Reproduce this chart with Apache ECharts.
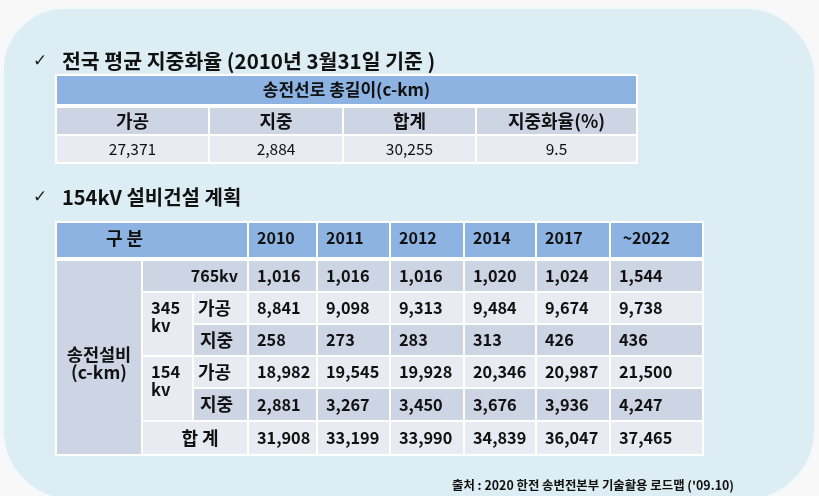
<!DOCTYPE html>
<html><head><meta charset="utf-8">
<script src="https://cdn.jsdelivr.net/npm/echarts@6/dist/echarts.min.js"></script>
<style>html,body{margin:0;padding:0;background:#f8f8f8}#c{width:819px;height:496px}</style>
</head><body><div id="c"></div>
<script>
// ---------- data ----------
const title1 = '전국 평균 지중화율 (2010년 3월31일 기준 )';
const title2 = '154kV 설비건설 계획';
const sourceText = "출처 : 2020 한전 송변전본부 기술활용 로드맵 ('09.10)";

const t1Header = '송전선로 총길이(c-km)';
const t1Labels = ['가공', '지중', '합계', '지중화율(%)'];
const t1Values = [27371, 2884, 30255, 9.5];

const years = ['2010', '2011', '2012', '2014', '2017', ' ~2022'];
const headLabel = '구 분';
const groupLabel = '송전설비\n(c-km)';
const v765Label = '765kv';
const v345Label = '345\nkv';
const v154Label = '154\nkv';
const kindLabels = ['가공', '지중'];
const totalLabel = '합 계';

const v765 = [1016, 1016, 1016, 1020, 1024, 1544];
const v345Overhead = [8841, 9098, 9313, 9484, 9674, 9738];
const v345Underground = [258, 273, 283, 313, 426, 436];
const v154Overhead = [18982, 19545, 19928, 20346, 20987, 21500];
const v154Underground = [2881, 3267, 3450, 3676, 3936, 4247];
const vTotal = [31908, 33199, 33990, 34839, 36047, 37465];

// ---------- layout / style ----------
const FONT = '"Noto Sans CJK KR", "Noto Sans", sans-serif';
const FILLS = { head: '#8DB3E2', dark: '#CDD4E4', light: '#E8EBF2', white: '#FFFFFF' };
const L1 = { cols: [0, 153, 287, 420, 581], rows: [0, 32, 60, 88] };
const L2 = { cols: [0, 86, 137, 192, 261, 334, 408, 480, 554, 647], rows: [0, 38, 70, 102, 134, 166, 199, 233] };
const fmt = v => (typeof v === 'number' && Math.abs(v) >= 1000) ? v.toLocaleString('en-US') : String(v);

function cell(c0, c1, r0, r1, fill, text, align, weight, size, extra) {
  return Object.assign({ span: [c0, c1, r0, r1], fill, text, align, weight, size }, extra || {});
}

const cells1 = [];
cells1.push(cell(0, 4, 0, 3, 'white', '', 'center', 'normal', 16, { inset: -1 }));
cells1.push(cell(0, 4, 0, 1, 'head', t1Header, 'center', 'bold', 17, { head: true }));
t1Labels.forEach((t, i) => cells1.push(cell(i, i + 1, 1, 2, 'dark', t, 'center', 'bold', 18)));
t1Values.forEach((v, i) => cells1.push(cell(i, i + 1, 2, 3, 'light', fmt(v), 'center', 'normal', 15.5)));

const cells2 = [];
cells2.push(cell(0, 9, 0, 7, 'white', '', 'center', 'normal', 16, { inset: -1 }));
cells2.push(cell(0, 3, 0, 1, 'head', headLabel, 'center', 'bold', 18, { head: true, tspan: [0, 2], dy: -2 }));
years.forEach((y, i) => cells2.push(cell(3 + i, 4 + i, 0, 1, 'head', y, 'left', 'bold', 16, { head: true, dy: -2 })));
cells2.push(cell(0, 1, 1, 7, 'dark', groupLabel, 'center', 'bold', 17.5, { dy: 6 }));
cells2.push(cell(1, 3, 1, 2, 'dark', v765Label, 'right', 'bold', 16));
cells2.push(cell(1, 2, 2, 4, 'light', v345Label, 'left', 'bold', 16.5, { firstRow: true }));
cells2.push(cell(2, 3, 2, 3, 'light', kindLabels[0], 'left', 'bold', 18, { pad: 4 }));
cells2.push(cell(2, 3, 3, 4, 'dark', kindLabels[1], 'left', 'bold', 18, { pad: 6 }));
cells2.push(cell(1, 2, 4, 6, 'light', v154Label, 'left', 'bold', 16.5, { firstRow: true }));
cells2.push(cell(2, 3, 4, 5, 'light', kindLabels[0], 'left', 'bold', 18, { pad: 4 }));
cells2.push(cell(2, 3, 5, 6, 'dark', kindLabels[1], 'left', 'bold', 18, { pad: 6 }));
cells2.push(cell(1, 3, 6, 7, 'light', totalLabel, 'center', 'bold', 18, { dx: 5 }));
const bodyRows = [v765, v345Overhead, v345Underground, v154Overhead, v154Underground, vTotal];
const bodyFills = ['dark', 'light', 'dark', 'light', 'dark', 'light'];
bodyRows.forEach((row, r) => row.forEach((v, i) =>
  cells2.push(cell(3 + i, 4 + i, 1 + r, 2 + r, bodyFills[r], fmt(v), 'left', 'bold', 16.3))));

function toData(cells, L) {
  return cells.map(c => [L.cols[c.span[0]], L.cols[c.span[1]], L.rows[c.span[2]], L.rows[c.span[3]]]);
}

function makeRender(cells, L) {
  return function (params, api) {
    const c = cells[params.dataIndex];
    const p0 = api.coord([api.value(0), api.value(2)]);
    const p1 = api.coord([api.value(1), api.value(3)]);
    const ins = c.inset != null ? c.inset : 1;
    const x = p0[0] + ins, y = p0[1] + ins;
    const w = p1[0] - p0[0] - 2 * ins;
    const h = p1[1] - p0[1] - 2 * ins - (c.head ? 2 : 0);
    const children = [{ type: 'rect', shape: { x, y, width: w, height: h }, style: { fill: FILLS[c.fill] } }];
    if (c.text) {
      let tx0 = x, tx1 = x + w;
      if (c.tspan) {
        tx0 = api.coord([L.cols[c.tspan[0]], 0])[0];
        tx1 = api.coord([L.cols[c.tspan[1]], 0])[0];
      }
      const pad = c.pad != null ? c.pad : 8;
      let tx = c.align === 'left' ? tx0 + pad : c.align === 'right' ? tx1 - 9 : (tx0 + tx1) / 2;
      tx += (c.dx || 0);
      let ty = y + h / 2 + (c.dy || 0);
      let va = 'middle';
      if (c.firstRow) {
        const r0 = api.coord([0, L.rows[c.span[2]]])[1];
        const r1 = api.coord([0, L.rows[c.span[2] + 1]])[1];
        ty = (r0 + r1) / 2 - 9;
        va = 'top';
      }
      children.push({
        type: 'text', x: tx, y: ty,
        style: {
          text: c.text, fill: '#111', font: c.weight + ' ' + c.size + 'px ' + FONT,
          lineHeight: 18, align: c.align, verticalAlign: va, textAlign: c.align, textVerticalAlign: va
        }
      });
    }
    return { type: 'group', children };
  };
}

const chart = echarts.init(document.getElementById('c'), null, { renderer: 'canvas' });
chart.setOption({
  backgroundColor: '#f8f8f8',
  animation: false,
  grid: [
    { left: 56, top: 75, width: 581, height: 88 },
    { left: 56, top: 222, width: 647, height: 233 }
  ],
  xAxis: [
    { type: 'value', min: 0, max: 581, show: false, gridIndex: 0 },
    { type: 'value', min: 0, max: 647, show: false, gridIndex: 1 }
  ],
  yAxis: [
    { type: 'value', min: 0, max: 88, inverse: true, show: false, gridIndex: 0 },
    { type: 'value', min: 0, max: 233, inverse: true, show: false, gridIndex: 1 }
  ],
  graphic: [
    { type: 'rect', z: -10, shape: { x: 3, y: 8, width: 812, height: 492, r: [62, 70, 70, 70] },
      style: { fill: '#DCEDF3', stroke: '#F2F9FB', lineWidth: 2 } },
    { type: 'text', z: 10, x: 33, y: 62, style: { text: '✓', font: '17px "DejaVu Sans"', fill: '#222', textVerticalAlign: 'middle', verticalAlign: 'middle' } },
    { type: 'text', z: 10, x: 62, y: 61, style: { text: title1, font: 'bold 20.5px ' + FONT, fill: '#111', textVerticalAlign: 'middle', verticalAlign: 'middle' } },
    { type: 'text', z: 10, x: 33, y: 198, style: { text: '✓', font: '17px "DejaVu Sans"', fill: '#222', textVerticalAlign: 'middle', verticalAlign: 'middle' } },
    { type: 'text', z: 10, x: 62, y: 197, style: { text: title2, font: 'bold 20px ' + FONT, fill: '#111', textVerticalAlign: 'middle', verticalAlign: 'middle' } },
    { type: 'text', z: 10, x: 452, y: 485, style: { text: sourceText, font: 'bold 12.4px ' + FONT, fill: '#111', textVerticalAlign: 'middle', verticalAlign: 'middle' } }
  ],
  series: [
    { type: 'custom', xAxisIndex: 0, yAxisIndex: 0, data: toData(cells1, L1), encode: { x: [0, 1], y: [2, 3] },
      renderItem: makeRender(cells1, L1), clip: false, silent: true },
    { type: 'custom', xAxisIndex: 1, yAxisIndex: 1, data: toData(cells2, L2), encode: { x: [0, 1], y: [2, 3] },
      renderItem: makeRender(cells2, L2), clip: false, silent: true }
  ]
});
</script></body></html>
